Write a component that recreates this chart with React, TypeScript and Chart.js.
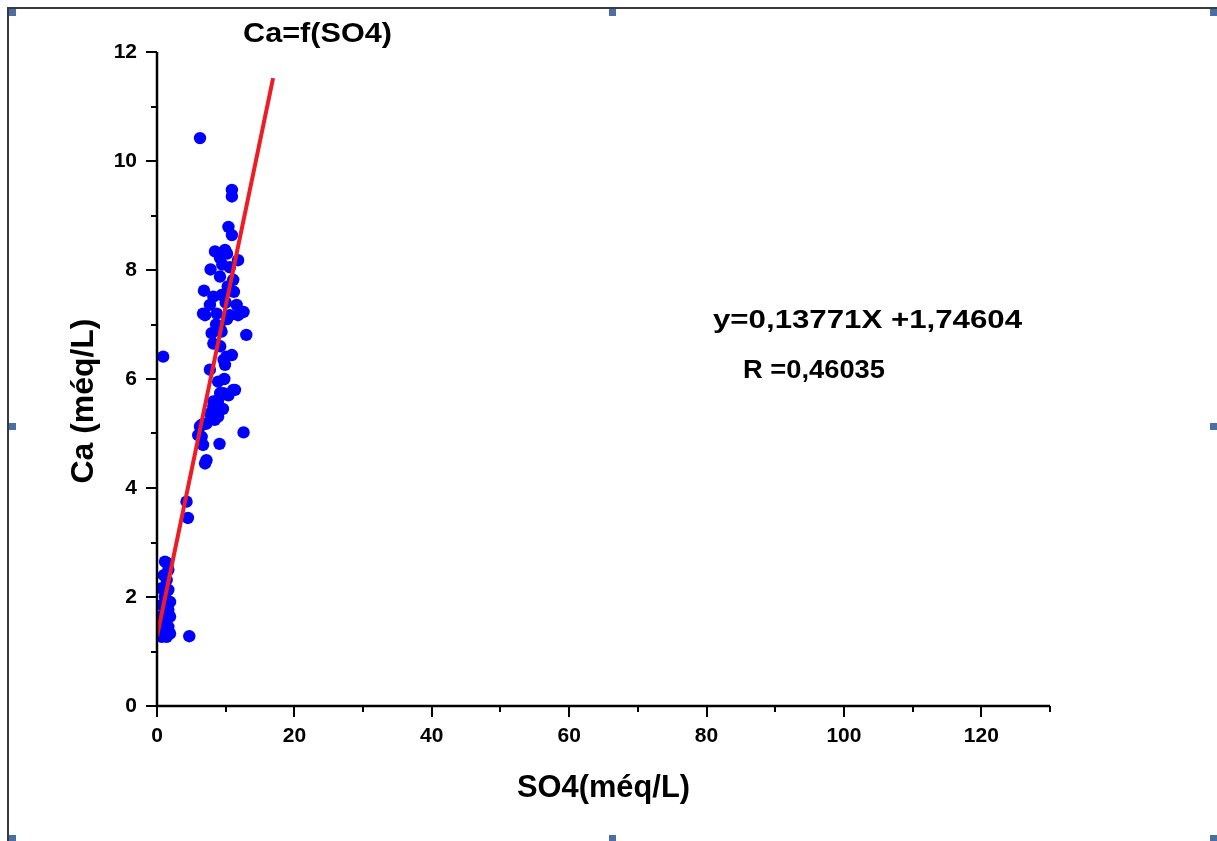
import React, { useEffect, useRef } from "react";
import { Chart, registerables } from "chart.js";

Chart.register(...registerables);

// ---- data ----
const so4Values: number[] = [
  1.16, 1.5, 1.65, 1.41, 0.68, 1.65, 1.16, 1.9, 0.68, 1.65, 1.9, 1.16, 0.44, 1.65, 0.92, 1.9, 0.68, 1.41, 1.0, 1.3,
  4.7, 4.3, 4.5, 0.9, 6.26, 12.6, 13.0,
  10.9, 10.9, 10.4, 10.9, 8.44, 9.9, 11.8, 7.8, 9.17, 9.17, 11.1, 6.84, 8.2, 9.4, 7.7, 11.6, 12.6, 6.7, 8.7, 10.6,
  7.0, 11.8, 7.96, 9.4, 8.2, 10.1, 9.7, 7.7, 9.9, 10.9, 11.1, 11.35, 9.66, 9.2, 8.9, 8.2, 8.2, 7.7, 8.7, 8.9,
  6.5, 7.2, 6.26, 6.5, 6.0, 9.1, 6.7, 7.2, 7.0,
  10.2, 10.6, 9.5, 10.3, 10.0, 11.2, 10.2, 8.6, 9.1, 9.2, 9.8, 8.9, 10.4, 9.6, 8.4,
];
const caValues: number[] = [
  2.65, 2.62, 2.5, 2.31, 2.16, 2.13, 2.0, 1.91, 1.85, 1.76, 1.64, 1.58, 1.64, 1.45, 1.39, 1.33, 1.27, 1.27, 2.4, 1.8,
  1.28, 3.75, 3.45, 6.41, 10.42, 5.02, 6.81,
  9.47, 9.35, 8.79, 8.64, 8.34, 8.37, 8.18, 8.01, 8.22, 7.88, 7.82, 7.62, 7.51, 7.54, 7.36, 7.36, 7.23, 7.2, 7.2, 7.17,
  7.17, 7.17, 6.84, 6.87, 6.65, 6.41, 6.35, 6.17, 6.26, 6.44, 5.8, 5.8, 5.74, 5.74, 5.61, 5.59, 5.49, 5.37, 5.37, 5.31,
  5.16, 5.18, 5.13, 4.94, 4.97, 4.81, 4.79, 4.51, 4.45,
  8.3, 8.05, 8.1, 7.7, 7.4, 7.6, 7.1, 7.0, 6.95, 6.6, 6.0, 5.95, 5.7, 5.45, 5.25,
];
const fitLineX: number[] = [0, 16.9];
const fitLineY: number[] = [1.28, 11.52];

const xMajorTicks: number[] = [0, 20, 40, 60, 80, 100, 120];
const xMinorTicks: number[] = [10, 30, 50, 70, 90, 110, 130];
const yMajorTicks: number[] = [0, 2, 4, 6, 8, 10, 12];
const yMinorTicks: number[] = [1, 3, 5, 7, 9, 11];

const titleText = "Ca=f(SO4)";
const xAxisTitle = "SO4(méq/L)";
const yAxisTitle = "Ca (méq/L)";
const equationText = "y=0,13771X +1,74604";
const rText = "R =0,46035";

const FONT = "'Liberation Sans', Arial, sans-serif";

function drawFitted(
  ctx: CanvasRenderingContext2D,
  text: string,
  x: number,
  y: number,
  size: number,
  width: number,
  rotate = false
) {
  ctx.save();
  ctx.font = `bold ${size}px ${FONT}`;
  ctx.fillStyle = "#000";
  ctx.textBaseline = "alphabetic";
  const w = ctx.measureText(text).width;
  const sx = width / w;
  ctx.translate(x, y);
  if (rotate) {
    ctx.rotate(-Math.PI / 2);
    ctx.textAlign = "center";
  } else {
    ctx.textAlign = "left";
  }
  ctx.scale(sx, 1);
  ctx.fillText(text, 0, 0);
  ctx.restore();
}

const decorPlugin = {
  id: "decor",
  afterDraw(chart: any) {
    const ctx: CanvasRenderingContext2D = chart.ctx;
    const xs = chart.scales.x;
    const ys = chart.scales.y;
    const { left, right, top, bottom } = chart.chartArea;
    ctx.save();
    // axes
    ctx.strokeStyle = "#000";
    ctx.lineWidth = 2.5;
    ctx.lineCap = "butt";
    ctx.beginPath();
    ctx.moveTo(left, top);
    ctx.lineTo(left, bottom + 1.25);
    ctx.moveTo(left - 1.25, bottom);
    ctx.lineTo(right, bottom);
    ctx.stroke();
    // ticks
    ctx.lineWidth = 2;
    ctx.beginPath();
    xMajorTicks.forEach((v) => {
      const p = Math.round(xs.getPixelForValue(v));
      ctx.moveTo(p, bottom);
      ctx.lineTo(p, bottom + 11);
    });
    xMinorTicks.forEach((v) => {
      const p = Math.round(xs.getPixelForValue(v));
      ctx.moveTo(p, bottom);
      ctx.lineTo(p, bottom + 6);
    });
    yMajorTicks.forEach((v) => {
      const p = Math.round(ys.getPixelForValue(v));
      ctx.moveTo(left, p);
      ctx.lineTo(left - 11, p);
    });
    yMinorTicks.forEach((v) => {
      const p = Math.round(ys.getPixelForValue(v));
      ctx.moveTo(left, p);
      ctx.lineTo(left - 6, p);
    });
    ctx.stroke();

    // texts
    drawFitted(ctx, titleText, 243, 42, 28, 149);
    drawFitted(ctx, equationText, 713, 328, 25, 309);
    drawFitted(ctx, rText, 743, 378, 25, 142);
    drawFitted(ctx, xAxisTitle, 517, 797, 31, 173);
    drawFitted(ctx, yAxisTitle, 93, 401, 31, 165, true);

    // frame
    ctx.strokeStyle = "#3a3a3a";
    ctx.lineWidth = 2;
    ctx.beginPath();
    ctx.moveTo(8, 841);
    ctx.lineTo(8, 8);
    ctx.lineTo(1217, 8);
    ctx.stroke();
    // handles
    ctx.fillStyle = "#4b6fa3";
    const handles = [
      [9, 9], [609, 9], [1210, 9],
      [9, 423], [1210, 423],
      [9, 835], [609, 835], [1210, 835],
    ];
    handles.forEach(([hx, hy]) => ctx.fillRect(hx, hy, 7, 7));
    ctx.restore();
  },
};

export default function App() {
  const ref = useRef<HTMLCanvasElement | null>(null);
  useEffect(() => {
    document.body.style.margin = "0";
    const canvas = ref.current;
    if (!canvas) return;
    const points = so4Values.map((x, i) => ({ x, y: caValues[i] }));
    const fit = fitLineX.map((x, i) => ({ x, y: fitLineY[i] }));
    const chart = new Chart(canvas, {
      type: "scatter",
      data: {
        datasets: [
          {
            label: "Ca",
            data: points,
            backgroundColor: "#0000ff",
            borderColor: "#0000ff",
            borderWidth: 0,
            pointRadius: 6.2,
            pointHoverRadius: 6.2,
            order: 1,
          },
          {
            label: "fit",
            type: "line",
            data: fit,
            borderColor: "#ee1c25",
            borderWidth: 4,
            pointRadius: 0,
            showLine: true,
            fill: false,
            order: 0,
          } as any,
        ],
      },
      options: {
        animation: false,
        responsive: false,
        maintainAspectRatio: false,
        devicePixelRatio: 1,
        layout: { padding: { top: 52, right: 167, left: 0, bottom: 0 } },
        plugins: { legend: { display: false }, tooltip: { enabled: false }, title: { display: false } },
        scales: {
          x: {
            type: "linear",
            min: 0,
            max: 130,
            grid: { display: false },
            border: { display: false },
            ticks: {
              stepSize: 20,
              includeBounds: false,
              padding: 10,
              color: "#000",
              maxRotation: 0,
              font: { family: FONT, size: 21, weight: "bold" },
            },
            afterFit: (s: any) => {
              s.height = 135;
            },
          },
          y: {
            type: "linear",
            min: 0,
            max: 12,
            grid: { display: false },
            border: { display: false },
            ticks: {
              stepSize: 2,
              padding: 12,
              color: "#000",
              font: { family: FONT, size: 21, weight: "bold" },
            },
            afterFit: (s: any) => {
              s.width = 157;
            },
          },
        },
      },
      plugins: [decorPlugin],
    });
    return () => chart.destroy();
  }, []);
  return (
    <div style={{ width: 1217, height: 841, background: "#fff" }}>
      <canvas ref={ref} width={1217} height={841} style={{ display: "block", width: 1217, height: 841 }} />
    </div>
  );
}
